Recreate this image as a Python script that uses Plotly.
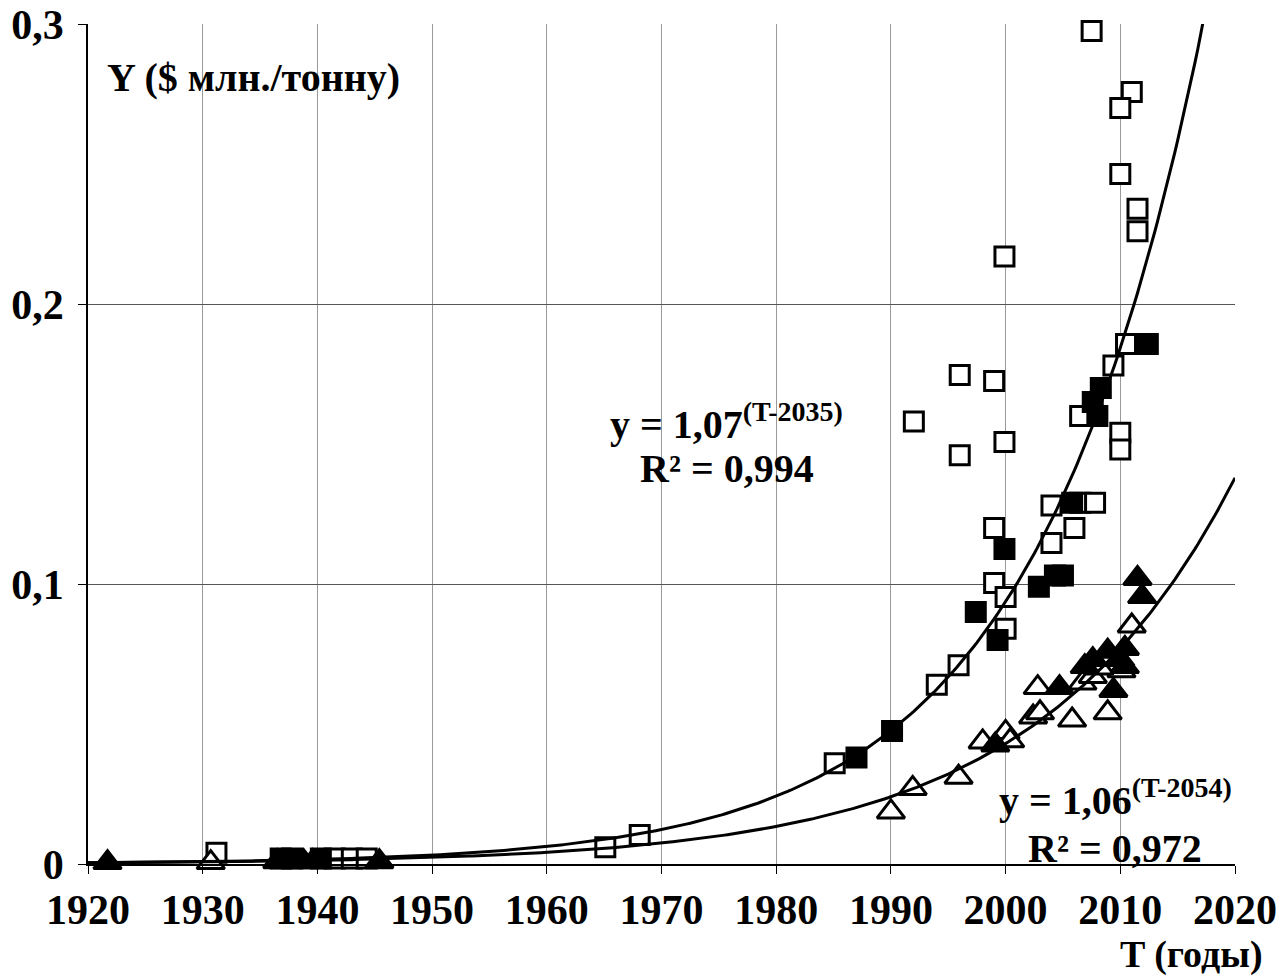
import numpy as np
import plotly.graph_objects as go

# ---- data ----
open_sq_T = [1931.2, 1941.5, 1943.0, 1944.3, 1965.1, 1968.1, 1985.1, 1994.0, 1995.9,
             1992.0, 1996.0, 1996.0, 1999.0, 1999.9, 1999.9, 2007.5, 2011.0, 2010.0,
             2010.0, 2011.5, 2011.5, 2010.5, 2009.4, 2006.5, 2010.0, 2010.0, 2004.0,
             2006.5, 2007.8, 1999.0, 2006.0, 2004.0, 1999.0, 2000.0, 2000.0]
open_sq_Y = [0.004, 0.002, 0.002, 0.002, 0.006, 0.0104, 0.036, 0.064, 0.071,
             0.158, 0.1746, 0.146, 0.1725, 0.1507, 0.217, 0.2975, 0.2757, 0.270,
             0.2464, 0.234, 0.226, 0.1857, 0.178, 0.160, 0.154, 0.148, 0.128,
             0.129, 0.129, 0.120, 0.120, 0.1146, 0.1004, 0.0954, 0.084]

filled_sq_T = [1936.8, 1937.8, 1940.3, 1987.0, 1990.1, 1997.4, 1999.3, 1999.9, 2002.9,
               2004.3, 2005.0, 2005.8, 2008.3, 2007.6, 2008.0, 2012.4]
filled_sq_Y = [0.002, 0.002, 0.002, 0.038, 0.0475, 0.090, 0.080, 0.1125, 0.099,
               0.103, 0.103, 0.129, 0.170, 0.165, 0.160, 0.1857]

open_tri_T = [1930.7, 1990.0, 1991.9, 1995.9, 1998.0, 2000.0, 2000.4, 2002.8, 2002.4,
              2003.0, 2005.8, 2006.7, 2007.6, 2008.9, 2011.0, 2010.1, 2008.2]
open_tri_Y = [0.0005, 0.0186, 0.027, 0.031, 0.0436, 0.047, 0.044, 0.063, 0.0525,
              0.054, 0.0514, 0.0646, 0.067, 0.054, 0.085, 0.069, 0.070]

filled_tri_T = [1921.7, 1936.5, 1938.8, 1939.6, 1945.4, 1999.1, 2004.7, 2006.9, 2007.6,
                2008.9, 2010.4, 2010.4, 2009.4, 2011.5, 2011.9, 2010.0]
filled_tri_Y = [0.0005, 0.0008, 0.0008, 0.0008, 0.0008, 0.0425, 0.063, 0.0705, 0.073,
                0.076, 0.077, 0.0705, 0.062, 0.102, 0.0955, 0.073]

# trend lines as printed on the chart: y = base^(T - T0)
fit1_base, fit1_T0, fit1_r2 = 1.07, 2035, "0,994"
fit2_base, fit2_T0, fit2_r2 = 1.06, 2054, "0,972"

x_ticks = list(range(1920, 2021, 10))
y_ticks = [0, 0.1, 0.2, 0.3]
y_tick_text = ["0", "0,1", "0,2", "0,3"]

FONT = "Liberation Serif, Times New Roman, serif"

fig = go.Figure()

def add_pts(T, Y, symbol, fill, size):
    fig.add_trace(go.Scatter(
        x=T, y=Y, mode="markers", cliponaxis=False,
        marker=dict(symbol=symbol, size=size, color=fill,
                    line=dict(color="black", width=3)),
        showlegend=False, hoverinfo="x+y"))

add_pts(open_sq_T, open_sq_Y, "square", "white", 19)
add_pts(filled_sq_T, filled_sq_Y, "square", "black", 19)
add_pts(open_tri_T, open_tri_Y, "triangle-up", "white", 24)
add_pts(filled_tri_T, filled_tri_Y, "triangle-up", "black", 24)

T_line = np.linspace(1920, 2020, 401)
fig.add_trace(go.Scatter(x=T_line, y=fit1_base ** (T_line - fit1_T0), mode="lines",
                         line=dict(color="black", width=3), showlegend=False,
                         hoverinfo="skip"))
fig.add_trace(go.Scatter(x=T_line, y=fit2_base ** (T_line - fit2_T0), mode="lines",
                         line=dict(color="black", width=3), showlegend=False,
                         hoverinfo="skip"))

eq_font = dict(family=FONT, size=40, color="black")
ann = [
    dict(x=1921.5, y=0.281, xanchor="left", yanchor="middle",
         text="<b>Y ($ млн./тонну)</b>", font=dict(family=FONT, size=40, color="black")),
    dict(x=1975.7, y=0.1580, xanchor="center", yanchor="middle",
         text=f"<b>y = {str(fit1_base).replace('.', ',')}<sup>(T-{fit1_T0})</sup></b>", font=eq_font),
    dict(x=1975.7, y=0.1412, xanchor="center", yanchor="middle",
         text=f"<b>R² = {fit1_r2}</b>", font=eq_font),
    dict(x=2009.6, y=0.0236, xanchor="center", yanchor="middle",
         text=f"<b>y = {str(fit2_base).replace('.', ',')}<sup>(T-{fit2_T0})</sup></b>", font=eq_font),
    dict(x=2009.5, y=0.0057, xanchor="center", yanchor="middle",
         text=f"<b>R² = {fit2_r2}</b>", font=eq_font),
    dict(x=1.026, y=-0.108, xref="paper", yref="paper", xanchor="right", yanchor="middle",
         text="<b>T (годы)</b>", font=dict(family=FONT, size=38, color="black")),
]
for a in ann:
    a.setdefault("xref", "x")
    a.setdefault("yref", "y")
    a["showarrow"] = False
fig.update_layout(annotations=ann)

fig.update_layout(
    width=1284, height=976,
    margin=dict(l=88, r=49, t=24, b=112),
    paper_bgcolor="white", plot_bgcolor="white",
    font=dict(family=FONT, color="black"),
    xaxis=dict(range=[1920, 2020], tickvals=x_ticks, ticktext=[f"<b>{t}</b>" for t in x_ticks],
               tickfont=dict(family=FONT, size=42, color="black"), automargin=False,
               showgrid=True, gridcolor="#9a9a9a", gridwidth=1,
               showline=True, linecolor="black", linewidth=1.5,
               ticks="outside", ticklen=8, tickcolor="black", zeroline=False),
    yaxis=dict(range=[0, 0.3], tickvals=y_ticks, ticktext=[f"<b>{t}</b>" for t in y_tick_text],
               tickfont=dict(family=FONT, size=42, color="black"), automargin=False,
               ticklabelstandoff=6,
               showgrid=True, gridcolor="#555555", gridwidth=1,
               showline=True, linecolor="black", linewidth=1.5,
               ticks="outside", ticklen=8, tickcolor="black", zeroline=False),
)

fig.write_html("out.html")
